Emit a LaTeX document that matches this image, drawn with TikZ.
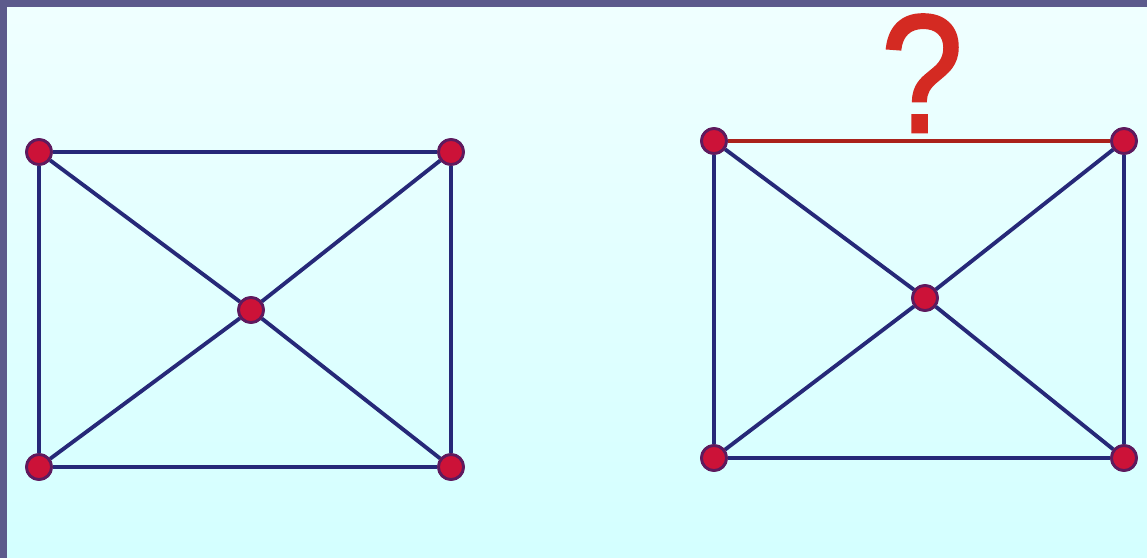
\documentclass[tikz,border=0pt]{standalone}
\usepackage{fontspec}
\setmainfont{Liberation Sans}
\newfontfamily\qfont[FakeBold=1.6]{Liberation Sans}
\definecolor{framec}{HTML}{5C5A8C}
\definecolor{edgec}{HTML}{262878}
\definecolor{dotc}{HTML}{CC1238}
\definecolor{dotrim}{HTML}{5E1A5E}
\definecolor{qred}{HTML}{D42A22}
\begin{document}
\begin{tikzpicture}[x=0.02cm, y=-0.02cm,
        dot/.style={circle, fill=dotc, draw=dotrim, line width=1.6pt, inner sep=0pt, minimum size=0.5cm},
        edge/.style={draw=edgec, line width=2.2pt},
        missing/.style={draw=qred!80!black, line width=2.2pt}]

        % background and frame
        \useasboundingbox (0,0) rectangle (1147,558);
        \shade[top color=cyan!6, bottom color=cyan!17] (0,0) rectangle (1147,558);
        \fill[framec] (0,0) rectangle (1147,7);
        \fill[framec] (0,0) rectangle (7,558);

        % left graph
        \node[dot] (a1) at (39, 152)  {};
        \node[dot] (a2) at (451, 152) {};
        \node[dot] (a3) at (451, 467) {};
        \node[dot] (a4) at (39, 467)  {};
        \node[dot] (a0) at (251, 310) {};

        \draw[edge] (a1) -- (a2);
        \draw[edge] (a2) -- (a3);
        \draw[edge] (a3) -- (a4);
        \draw[edge] (a4) -- (a1);
        \draw[edge] (a1) -- (a0);
        \draw[edge] (a2) -- (a0);
        \draw[edge] (a3) -- (a0);
        \draw[edge] (a4) -- (a0);

        % right graph
        \node[dot] (b1) at (714, 141)  {};
        \node[dot] (b2) at (1124, 141) {};
        \node[dot] (b3) at (1124, 458) {};
        \node[dot] (b4) at (714, 458)  {};
        \node[dot] (b0) at (925, 298)  {};

        \draw[missing] (b1) -- (b2);
        \draw[edge] (b2) -- (b3);
        \draw[edge] (b3) -- (b4);
        \draw[edge] (b4) -- (b1);
        \draw[edge] (b1) -- (b0);
        \draw[edge] (b2) -- (b0);
        \draw[edge] (b3) -- (b0);
        \draw[edge] (b4) -- (b0);

        \node[text=qred, font=\qfont\fontsize{84}{84}\selectfont, inner sep=0pt, anchor=base] (q) at (922, 132) {\scalebox{1}[1.14]{?}};

        % redraw dots on top
        \foreach \v in {a1,a2,a3,a4,a0,b1,b2,b3,b4,b0}
            \node[dot] at (\v) {};

    \end{tikzpicture}
\end{document}
